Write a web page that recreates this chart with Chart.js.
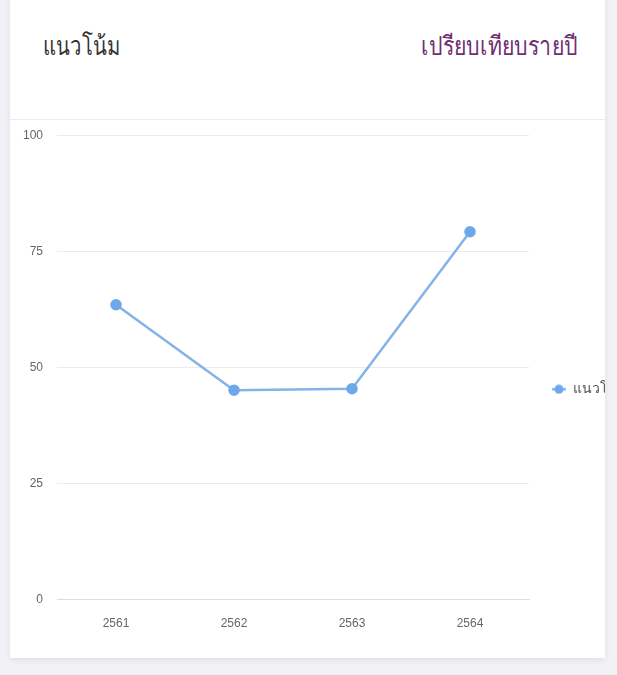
<!DOCTYPE html>
<html>
<head>
<meta charset="utf-8">
<script src="https://cdn.jsdelivr.net/npm/chart.js@4"></script>
<style>
  html, body { margin: 0; padding: 0; }
  body { width: 617px; height: 675px; background: #f1f1f6; position: relative; overflow: hidden; font-family: "Noto Sans", sans-serif; }
  .card { position: absolute; left: 10px; top: -10px; width: 595px; height: 668px; background: #fff; box-shadow: 0 2px 6px rgba(0,0,0,0.08); overflow: hidden; }
  .head { position: absolute; left: 0; top: 10px; width: 595px; height: 119px; border-bottom: 1px solid #ebebf0; }
  .title { position: absolute; left: 33px; top: 25px; font-size: 26px; color: #333; transform: scaleX(0.78); transform-origin: left center; }
  .link { position: absolute; right: 27px; top: 25px; font-size: 26px; color: #6e2f73; transform: scaleX(0.82); transform-origin: right center; }
  .wrap { position: absolute; left: -1px; top: 124px; width: 628px; height: 552px; }
</style>
</head>
<body>
<div class="card">
  <div class="head">
    <div class="title">แนวโน้ม</div>
    <div class="link">เปรียบเทียบรายปี</div>
  </div>
  <div class="wrap"><canvas id="trend"></canvas></div>
</div>
<script>
const years = ['2561', '2562', '2563', '2564'];
const trendValues = [63.5, 45.1, 45.4, 79.2];
const seriesName = 'แนวโน้ม';

// legend marker: short line with a dot in the middle
function legendMarker() {
    const c = document.createElement('canvas');
    c.width = 14; c.height = 10;
    const g = c.getContext('2d');
    g.strokeStyle = '#82b4e8';
    g.lineWidth = 2.5;
    g.beginPath(); g.moveTo(0, 5); g.lineTo(14, 5); g.stroke();
    g.fillStyle = '#6fa8ea';
    g.beginPath(); g.arc(7, 5, 4.5, 0, Math.PI * 2); g.fill();
    return c;
}

document.addEventListener('DOMContentLoaded', function() {
    const ctx = document.getElementById('trend');
    new Chart(ctx, {
        type: 'line',
        data: {
            labels: years,
            datasets: [{
                label: seriesName,
                data: trendValues,
                borderColor: '#82b4e8',
                backgroundColor: '#6fa8ea',
                pointBackgroundColor: '#6fa8ea',
                pointBorderColor: '#6fa8ea',
                pointRadius: 4.5,
                pointStyle: 'circle',
                borderWidth: 2.5,
                tension: 0,
                fill: false
            }]
        },
        options: {
            responsive: true,
            maintainAspectRatio: false,
            animation: false,
            layout: { padding: { left: 0, top: 2, bottom: 18, right: 0 } },
            scales: {
                x: {
                    offset: true,
                    grid: { display: false, drawTicks: false },
                    border: { color: '#dcdce6' },
                    ticks: { color: '#666', font: { size: 12 }, padding: 17 }
                },
                y: {
                    min: 0,
                    max: 100,
                    ticks: { stepSize: 25, color: '#666', font: { size: 12 }, padding: 14 },
                    grid: { color: '#ebebeb', drawTicks: false },
                    border: { display: false }
                }
            },
            plugins: {
                legend: {
                    position: 'right',
                    // empty title only nudges the item down a little
                    title: { display: true, text: ' ', font: { size: 2 }, padding: 6 },
                    labels: {
                        usePointStyle: true,
                        generateLabels: function(chart) {
                            return [{ text: seriesName, pointStyle: legendMarker(), fontColor: '#555', datasetIndex: 0, lineWidth: 0 }];
                        },
                        padding: 23,
                        font: { size: 14 }
                    }
                },
                tooltip: { enabled: false }
            }
        }
    });
});
</script>
</body>
</html>
